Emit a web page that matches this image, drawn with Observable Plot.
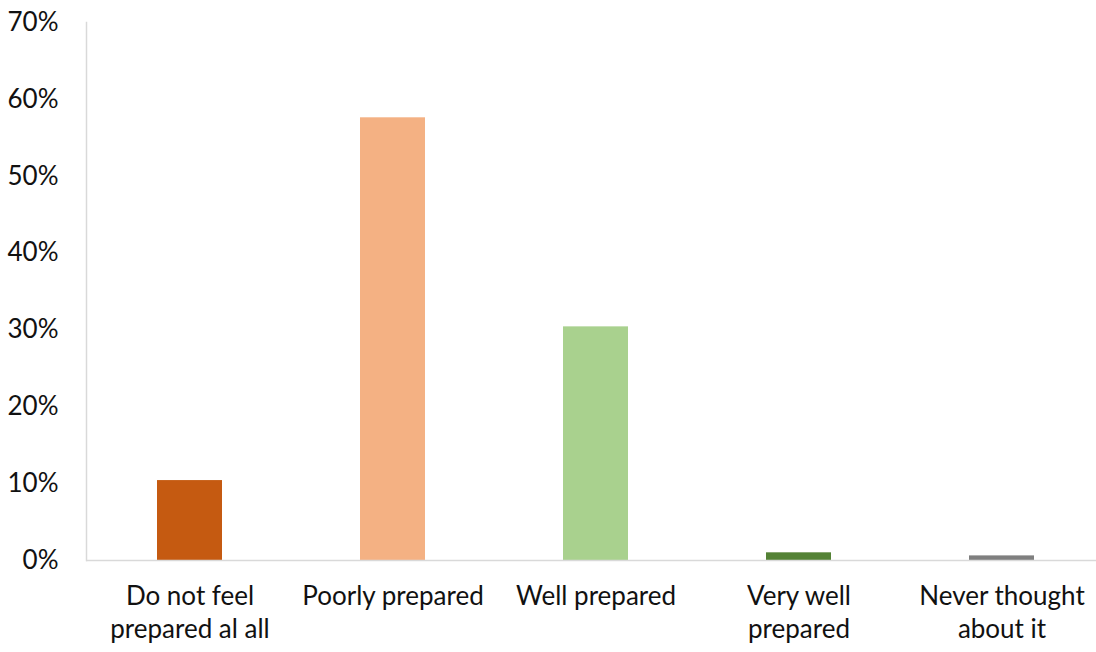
<!DOCTYPE html>
<html>
<head>
<meta charset="utf-8">
<script src="https://cdn.jsdelivr.net/npm/d3@7"></script>
<script src="https://cdn.jsdelivr.net/npm/@observablehq/plot@0.6"></script>
<style>
  html, body { margin: 0; padding: 0; background: #fff; }
  #chart svg { display: block; }
</style>
</head>
<body>
<div id="chart"></div>
<script>
// Survey responses: how prepared respondents feel
const categories = [
  "Do not feel prepared al all",
  "Poorly prepared",
  "Well prepared",
  "Very well prepared",
  "Never thought about it"
];
const tickLabels = [
  "Do not feel\nprepared al all",
  "Poorly prepared",
  "Well prepared",
  "Very well\nprepared",
  "Never thought\nabout it"
];
const shares = [0.104, 0.576, 0.304, 0.010, 0.006];
const colors = ["#C55A11", "#F4B183", "#A9D18E", "#548235", "#7F7F7F"];
const yTicks = [0, 0.1, 0.2, 0.3, 0.4, 0.5, 0.6, 0.7];

const data = categories.map((c, i) => ({category: c, share: shares[i]}));
const labelOf = new Map(categories.map((c, i) => [c, tickLabels[i]]));

const font = "Lato, 'Open Sans', sans-serif";
const fs = 26;

const chart = Plot.plot({
  width: 1096,
  height: 652,
  marginLeft: 86,
  marginRight: 0,
  marginTop: 22,
  marginBottom: 92,
  style: {fontFamily: font, fontSize: fs + "px", color: "#111", background: "#fff"},
  x: {domain: categories, range: [86, 1104], paddingInner: 0.68, paddingOuter: 0.34},
  y: {domain: [0, 0.7]},
  color: {domain: categories, range: colors},
  marks: [
    Plot.barY(data, {x: "category", y: "share", fill: "category"}),
    // vertical value axis line along the left edge of the frame
    Plot.frame({anchor: "left", stroke: "#d9d9d9", strokeWidth: 1.5}),
    Plot.ruleY([0], {stroke: "#d9d9d9", strokeWidth: 1.5}),
    Plot.axisY({
      ticks: yTicks,
      tickSize: 0,
      tickPadding: 28,
      tickFormat: d => Math.round(d * 100) + "%",
      fontSize: fs,
      label: null
    }),
    Plot.axisX({
      tickSize: 0,
      tickPadding: 21,
      tickFormat: c => labelOf.get(c),
      fontSize: fs,
      lineHeight: 1.27,
      label: null
    })
  ]
});
document.getElementById("chart").appendChild(chart);
</script>
</body>
</html>
